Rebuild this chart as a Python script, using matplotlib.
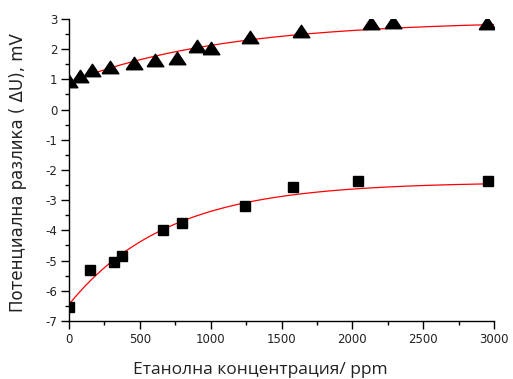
import numpy as np
import matplotlib
matplotlib.use("Agg")
import matplotlib.pyplot as plt
from matplotlib.ticker import MultipleLocator

plt.rcParams['axes.unicode_minus'] = False

# Data
tri_x = [0, 75, 160, 290, 460, 610, 760, 900, 1000, 1280, 1640, 2130, 2290, 2950]
tri_y = [0.95, 1.1, 1.3, 1.4, 1.55, 1.65, 1.7, 2.12, 2.05, 2.4, 2.6, 2.85, 2.9, 2.85]
sq_x = [0, 150, 320, 375, 660, 800, 1245, 1580, 2040, 2960]
sq_y = [-6.55, -5.3, -5.05, -4.85, -4.0, -3.75, -3.2, -2.55, -2.35, -2.35]

# Exponential fit parameters (y = A - B*exp(-x/t))
fit_tri = (2.95, 2.05, 1100.0)
fit_sq = (-2.4, 4.05, 700.0)

fig = plt.figure(figsize=(5.13, 3.79), dpi=100)
ax = fig.add_axes([0.1345, 0.153, 0.963 - 0.1345, 0.95 - 0.153])

xx = np.linspace(0, 3000, 400)
for (A, B, t) in (fit_tri, fit_sq):
    ax.plot(xx, A - B * np.exp(-xx / t), color='#ff0000', lw=0.9, zorder=2)

tri_marker = [(-1, -0.75), (1, -0.75), (0, 0.75), (-1, -0.75)]
ax.plot(tri_x, tri_y, linestyle='none', marker=tri_marker, markersize=12,
        color='black', zorder=3)
ax.plot(sq_x, sq_y, linestyle='none', marker='s', markersize=7,
        color='black', zorder=3)

ax.set_xlim(0, 3000)
ax.set_ylim(-7, 3)
ax.xaxis.set_major_locator(MultipleLocator(500))
ax.xaxis.set_minor_locator(MultipleLocator(250))
ax.yaxis.set_major_locator(MultipleLocator(1))
ax.yaxis.set_minor_locator(MultipleLocator(0.5))

for s in ('top', 'right'):
    ax.spines[s].set_visible(False)
for s in ('left', 'bottom'):
    ax.spines[s].set_linewidth(1.0)

ax.tick_params(which='major', direction='out', length=5.5, width=1,
               labelsize=8.5, pad=3)
ax.tick_params(which='minor', direction='out', length=3, width=1)
for lab in ax.get_xticklabels() + ax.get_yticklabels():
    lab.set_family('DejaVu Sans')
    lab.set_color('#222222')

ax.set_xlabel('Етанолна концентрация/ ppm', fontsize=12.5, family='Open Sans',
              color='#222222')
ax.xaxis.set_label_coords(0.45, -0.162)
ax.xaxis.label.set_va('center')
ax.set_ylabel('Потенциална разлика ( ΔU), mV', fontsize=12,
              family='DejaVu Sans', color='#222222')
ax.yaxis.set_label_coords(-0.121, 0.493)
ax.yaxis.label.set_va('center')

fig.savefig('out.png', dpi=100)
